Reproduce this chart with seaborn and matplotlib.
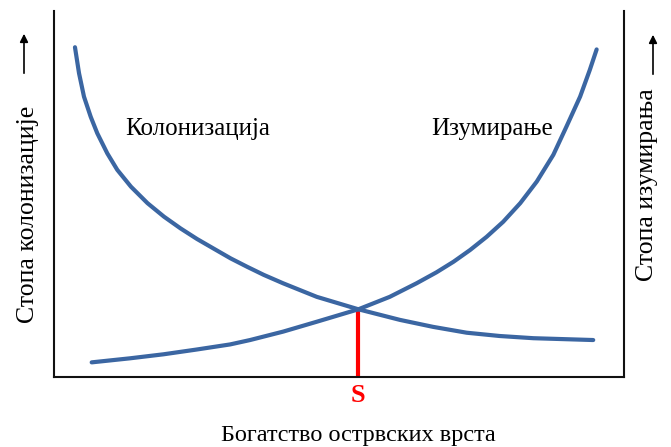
import numpy as np
import pandas as pd
import seaborn as sns
import matplotlib.pyplot as plt

# curves (x, y on a 0-100 scale)
col_x = [3.68, 4.39, 5.26, 6.44, 7.59, 9.35, 11.1, 13.5, 16.4, 19.3, 22.2, 25.1, 28.1,
         31.0, 33.9, 36.8, 40.2, 46.1, 53.4, 60.7, 66.5, 72.4, 78.2, 84.1, 94.6]
col_y = [90.1, 83.0, 76.6, 71.1, 66.6, 61.1, 56.6, 52.0, 47.5, 43.8, 40.6, 37.7, 35.0,
         32.4, 30.1, 27.9, 25.6, 21.9, 18.5, 15.6, 13.7, 12.1, 11.2, 10.6, 10.1]
ext_x = [6.61, 13.3, 19.2, 25.0, 30.9, 34.4, 40.2, 46.1, 53.4, 58.9, 63.6, 67.1, 70.1,
         73.0, 75.9, 78.8, 81.8, 84.7, 87.6, 89.9, 92.3, 94.0, 95.2]
ext_y = [4.0, 5.1, 6.2, 7.5, 8.9, 10.1, 12.4, 15.1, 18.5, 21.9, 25.6, 28.6, 31.5,
         34.7, 38.3, 42.4, 47.5, 53.4, 60.7, 68.4, 76.6, 83.9, 89.5]
s_x = 53.4
s_y = 18.5

labels = {'col': 'Колонизација', 'ext': 'Изумирање'}
xlabel = 'Богатство острвских врста'
ylabel_left = 'Стопа колонизације'
ylabel_right = 'Стопа изумирања'

sns.set_style('white')
plt.rcParams['font.family'] = ['Liberation Serif', 'DejaVu Serif']
plt.rcParams['text.color'] = 'black'

blue = '#3b66a2'
df_col = pd.DataFrame({'x': col_x, 'y': col_y})
df_ext = pd.DataFrame({'x': ext_x, 'y': ext_y})

fig = plt.figure(figsize=(6.71, 4.47), dpi=100)
ax = fig.add_axes([54 / 671, 70 / 447, 570 / 671, 366 / 447])

sns.lineplot(data=df_col, x='x', y='y', ax=ax, color=blue, lw=3, sort=False,
             solid_capstyle='round', solid_joinstyle='round')
sns.lineplot(data=df_ext, x='x', y='y', ax=ax, color=blue, lw=3, sort=False,
             solid_capstyle='round', solid_joinstyle='round')
ax.plot([s_x, s_x], [0, s_y], color='#ff0000', lw=3, solid_capstyle='butt', zorder=1)

ax.set_xlim(0, 100)
ax.set_ylim(0, 100)
ax.set_xticks([])
ax.set_yticks([])
ax.set_xlabel('')
ax.set_ylabel('')
for side in ['left', 'right', 'bottom']:
    ax.spines[side].set_color('#111111')
    ax.spines[side].set_linewidth(1.5)
ax.spines['top'].set_visible(False)

ax.text(25.2, 67.8, labels['col'], ha='center', va='center', fontsize=18)
ax.text(76.8, 67.8, labels['ext'], ha='center', va='center', fontsize=18)
ax.text(s_x, -5, 'S', color='#ff0000', ha='center', va='center',
        fontsize=19, fontweight='bold', clip_on=False)

fig.text(358 / 671, 1 - 435 / 447, xlabel, ha='center', va='center', fontsize=17.5)
fig.text(28 / 671, 1 - 214 / 447, ylabel_left, rotation=90, ha='center', va='center', fontsize=18.5)
fig.text(647 / 671, 1 - 185 / 447, ylabel_right, rotation=90, ha='center', va='center', fontsize=18.5)

arrow = dict(arrowstyle='-|>', color='black', lw=1.2, mutation_scale=12)
ax.annotate('', xy=(24 / 671, 1 - 31 / 447), xytext=(24 / 671, 1 - 76 / 447),
            xycoords='figure fraction', textcoords='figure fraction', arrowprops=arrow)
ax.annotate('', xy=(653 / 671, 1 - 32 / 447), xytext=(653 / 671, 1 - 77 / 447),
            xycoords='figure fraction', textcoords='figure fraction', arrowprops=arrow)

fig.savefig('out.png', dpi=100)
